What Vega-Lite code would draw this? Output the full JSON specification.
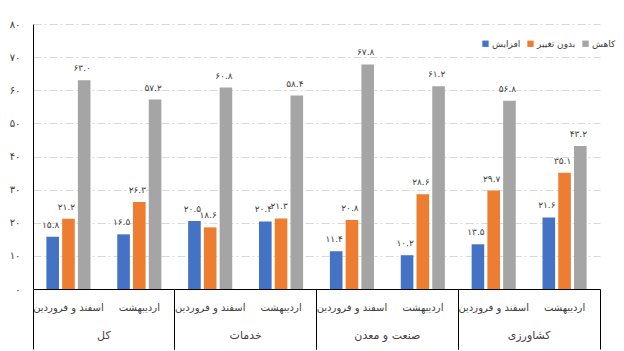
{
  "$schema": "https://vega.github.io/schema/vega-lite/v6.json",
  "width": 567,
  "height": 265,
  "autosize": {"type": "none"},
  "padding": {"left": 33, "top": 24, "right": 24, "bottom": 62},
  "config": {
    "locale": {
      "number": {
        "decimal": ".",
        "thousands": ",",
        "grouping": [3],
        "currency": ["", ""],
        "numerals": ["۰", "۱", "۲", "۳", "۴", "۵", "۶", "۷", "۸", "۹"]
      }
    },
    "view": {"stroke": null},
    "font": "DejaVu Sans"
  },
  "data": {
    "values": [
      {"group": "کل", "key": "کل|اسفند و فروردین", "series": "افزایش", "value": 15.8},
      {"group": "کل", "key": "کل|اسفند و فروردین", "series": "بدون تغییر", "value": 21.2},
      {"group": "کل", "key": "کل|اسفند و فروردین", "series": "کاهش", "value": 63.0},
      {"group": "کل", "key": "کل|اردیبهشت", "series": "افزایش", "value": 16.5},
      {"group": "کل", "key": "کل|اردیبهشت", "series": "بدون تغییر", "value": 26.3},
      {"group": "کل", "key": "کل|اردیبهشت", "series": "کاهش", "value": 57.2},
      {"group": "خدمات", "key": "خدمات|اسفند و فروردین", "series": "افزایش", "value": 20.5},
      {"group": "خدمات", "key": "خدمات|اسفند و فروردین", "series": "بدون تغییر", "value": 18.6},
      {"group": "خدمات", "key": "خدمات|اسفند و فروردین", "series": "کاهش", "value": 60.8},
      {"group": "خدمات", "key": "خدمات|اردیبهشت", "series": "افزایش", "value": 20.4},
      {"group": "خدمات", "key": "خدمات|اردیبهشت", "series": "بدون تغییر", "value": 21.3},
      {"group": "خدمات", "key": "خدمات|اردیبهشت", "series": "کاهش", "value": 58.4},
      {"group": "صنعت و معدن", "key": "صنعت و معدن|اسفند و فروردین", "series": "افزایش", "value": 11.4},
      {"group": "صنعت و معدن", "key": "صنعت و معدن|اسفند و فروردین", "series": "بدون تغییر", "value": 20.8},
      {"group": "صنعت و معدن", "key": "صنعت و معدن|اسفند و فروردین", "series": "کاهش", "value": 67.8},
      {"group": "صنعت و معدن", "key": "صنعت و معدن|اردیبهشت", "series": "افزایش", "value": 10.2},
      {"group": "صنعت و معدن", "key": "صنعت و معدن|اردیبهشت", "series": "بدون تغییر", "value": 28.6},
      {"group": "صنعت و معدن", "key": "صنعت و معدن|اردیبهشت", "series": "کاهش", "value": 61.2},
      {"group": "کشاورزی", "key": "کشاورزی|اسفند و فروردین", "series": "افزایش", "value": 13.5},
      {"group": "کشاورزی", "key": "کشاورزی|اسفند و فروردین", "series": "بدون تغییر", "value": 29.7},
      {"group": "کشاورزی", "key": "کشاورزی|اسفند و فروردین", "series": "کاهش", "value": 56.8},
      {"group": "کشاورزی", "key": "کشاورزی|اردیبهشت", "series": "افزایش", "value": 21.6},
      {"group": "کشاورزی", "key": "کشاورزی|اردیبهشت", "series": "بدون تغییر", "value": 35.1},
      {"group": "کشاورزی", "key": "کشاورزی|اردیبهشت", "series": "کاهش", "value": 43.2}
    ]
  },
  "layer": [
    {
      "encoding": {
        "x": {
          "field": "key",
          "type": "nominal",
          "sort": null,
          "scale": {"paddingInner": 0, "paddingOuter": 0},
          "axis": {
            "orient": "bottom",
            "title": null,
            "domain": true,
            "domainColor": "#000000",
            "domainWidth": 1,
            "ticks": false,
            "labelAngle": 0,
            "labelPadding": 13,
            "labelFontSize": 10,
            "labelColor": "#404040",
            "labelExpr": "split(datum.label, '|')[1]"
          }
        },
        "xOffset": {
          "field": "series",
          "type": "nominal",
          "scale": {"domain": ["افزایش", "بدون تغییر", "کاهش"], "paddingInner": 0.2, "paddingOuter": 0.85}
        },
        "y": {
          "field": "value",
          "type": "quantitative",
          "scale": {"domain": [0, 80]},
          "axis": {
            "title": null,
            "values": [0, 10, 20, 30, 40, 50, 60, 70, 80],
            "domain": true,
            "domainColor": "#000000",
            "ticks": false,
            "labelPadding": 13,
            "labelFontSize": 10,
            "labelColor": "#404040",
            "grid": true,
            "gridColor": "#d9d9d9",
            "gridDash": [8, 3, 2, 3]
          }
        }
      },
      "layer": [
        {
          "mark": {"type": "bar"},
          "encoding": {
            "color": {
              "field": "series",
              "type": "nominal",
              "scale": {"domain": ["افزایش", "بدون تغییر", "کاهش"], "range": ["#4472C4", "#ED7D31", "#A5A5A5"]},
              "legend": {
                "orient": "none",
                "legendX": 448,
                "legendY": 15,
                "direction": "horizontal",
                "title": null,
                "symbolType": "square",
                "symbolSize": 40,
                "symbolStrokeWidth": 0,
                "labelFontSize": 9,
                "labelColor": "#404040",
                "columnPadding": 5,
                "labelOffset": 2
              }
            }
          }
        },
        {
          "mark": {"type": "text", "dy": -12, "dx": -2, "fontSize": 9, "color": "#404040"},
          "encoding": {
            "text": {"field": "value", "type": "quantitative", "format": ".1f"}
          }
        }
      ]
    },
    {
      "mark": {"type": "rule", "opacity": 0},
      "encoding": {
        "x": {
          "field": "group",
          "type": "nominal",
          "sort": null,
          "scale": {"paddingInner": 0, "paddingOuter": 0},
          "axis": {
            "orient": "bottom",
            "title": null,
            "domain": false,
            "ticks": false,
            "labelAngle": 0,
            "labelPadding": 40,
            "labelFontSize": 11,
            "labelColor": "#404040"
          }
        }
      }
    },
    {
      "mark": {"type": "rule", "opacity": 0},
      "encoding": {
        "x": {
          "field": "group",
          "type": "nominal",
          "sort": null,
          "scale": {"paddingInner": 0, "paddingOuter": 0},
          "axis": {
            "orient": "bottom",
            "title": null,
            "domain": false,
            "labels": false,
            "ticks": true,
            "tickSize": 60,
            "tickColor": "#000000",
            "tickWidth": 1,
            "bandPosition": 0
          }
        }
      }
    },
    {
      "mark": {"type": "rule", "opacity": 0},
      "encoding": {
        "x": {
          "field": "group",
          "type": "nominal",
          "sort": null,
          "scale": {"paddingInner": 0, "paddingOuter": 0},
          "axis": {
            "orient": "bottom",
            "title": null,
            "domain": false,
            "labels": false,
            "ticks": true,
            "tickSize": 60,
            "tickColor": "#000000",
            "tickWidth": 1,
            "bandPosition": 1
          }
        }
      }
    }
  ],
  "resolve": {"scale": {"x": "independent"}, "axis": {"x": "independent"}}
}
